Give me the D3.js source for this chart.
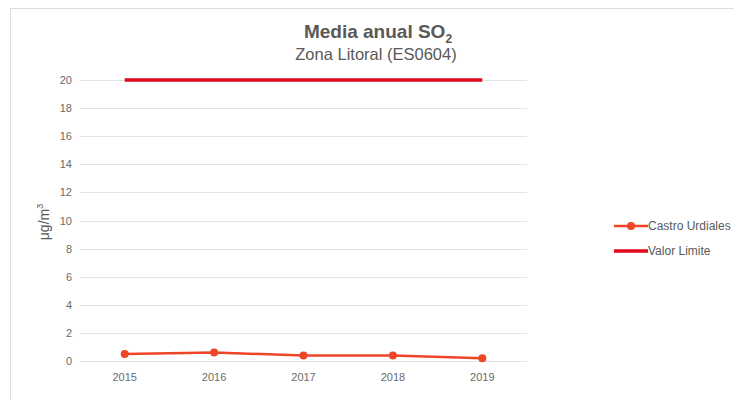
<!DOCTYPE html>
<html>
<head>
<meta charset="utf-8">
<script src="https://cdn.jsdelivr.net/npm/d3@7"></script>
<style>
  body { margin: 0; background: #fff; }
  svg { display: block; }
  .tick text { font-family: "Liberation Sans", Arial, sans-serif; font-size: 11px; fill: #6a6a6a; }
</style>
</head>
<body>
<svg id="chart" width="734" height="400"></svg>
<script>
// data
const years = ["2015", "2016", "2017", "2018", "2019"];
const castroUrdiales = [0.5, 0.6, 0.4, 0.4, 0.2];
const valorLimite = [20, 20, 20, 20, 20];
const yTicks = [0, 2, 4, 6, 8, 10, 12, 14, 16, 18, 20];

const WIDTH = 734;
const HEIGHT = 400;
const PLOT = { left: 80, right: 527, top: 80, bottom: 361 };

const SERIES_COLOR = "#ef4527";
const LIMIT_COLOR = "#e0081c";

const svg = d3.select("#chart");

// outer frame (only top and left edges visible)
svg.append("line")
  .attr("x1", 10).attr("x2", WIDTH).attr("y1", 8.5).attr("y2", 8.5)
  .attr("stroke", "#dcdcdc");
svg.append("line")
  .attr("x1", 10.5).attr("x2", 10.5).attr("y1", 8).attr("y2", HEIGHT)
  .attr("stroke", "#dcdcdc");

const x = d3.scaleBand().domain(years).range([PLOT.left, PLOT.right]);
const y = d3.scaleLinear().domain([0, 20]).range([PLOT.bottom, PLOT.top]);

// gridlines
svg.append("g")
  .selectAll("line")
  .data(yTicks)
  .join("line")
  .attr("x1", PLOT.left)
  .attr("x2", PLOT.right)
  .attr("y1", (d) => Math.round(y(d)) + 0.5)
  .attr("y2", (d) => Math.round(y(d)) + 0.5)
  .attr("stroke", "#e3e3e3");

// y axis labels
const yAxis = svg.append("g")
  .attr("transform", `translate(${PLOT.left - 8}, 0)`)
  .call(d3.axisLeft(y).tickValues(yTicks).tickSize(0).tickPadding(0));
yAxis.select(".domain").remove();

// x axis labels
const xAxis = svg.append("g")
  .attr("transform", `translate(0, ${PLOT.bottom + 6})`)
  .call(d3.axisBottom(x).tickSize(0).tickPadding(6));
xAxis.select(".domain").remove();

// axis title
svg.append("text")
  .attr("transform", `translate(49, 222) rotate(-90)`)
  .attr("text-anchor", "middle")
  .attr("font-family", "'Liberation Sans', Arial, sans-serif")
  .attr("font-size", 14)
  .attr("fill", "#595959")
  .html('μg/m<tspan dy="-6" font-size="9">3</tspan>');

// chart title
const title = svg.append("text")
  .attr("x", 378)
  .attr("y", 38)
  .attr("text-anchor", "middle")
  .attr("font-family", "'Liberation Sans', Arial, sans-serif")
  .attr("font-size", 19)
  .attr("font-weight", "bold")
  .attr("fill", "#595959");
title.append("tspan").text("Media anual SO");
title.append("tspan").attr("dy", 5).attr("font-size", 12).text("2");

svg.append("text")
  .attr("x", 376)
  .attr("y", 60)
  .attr("text-anchor", "middle")
  .attr("font-family", "'Liberation Sans', Arial, sans-serif")
  .attr("font-size", 16.5)
  .attr("fill", "#595959")
  .text("Zona Litoral (ES0604)");

const cx = (d, i) => x(years[i]) + x.bandwidth() / 2;
const line = d3.line().x((d, i) => cx(d, i)).y((d) => y(d));

// limit line
svg.append("path")
  .datum(valorLimite)
  .attr("d", line)
  .attr("fill", "none")
  .attr("stroke", LIMIT_COLOR)
  .attr("stroke-width", 3.5);

// series
svg.append("path")
  .datum(castroUrdiales)
  .attr("d", line)
  .attr("fill", "none")
  .attr("stroke", SERIES_COLOR)
  .attr("stroke-width", 2.5);

svg.append("g")
  .selectAll("circle")
  .data(castroUrdiales)
  .join("circle")
  .attr("cx", cx)
  .attr("cy", (d) => y(d))
  .attr("r", 4)
  .attr("fill", SERIES_COLOR);

// legend
const legend = [
  { name: "Castro Urdiales", color: SERIES_COLOR, width: 2.5, dot: true },
  { name: "Valor Limite", color: LIMIT_COLOR, width: 3.5, dot: false },
];

const lg = svg.append("g")
  .selectAll("g")
  .data(legend)
  .join("g")
  .attr("transform", (d, i) => `translate(614, ${226 + i * 25})`);

lg.append("line")
  .attr("x1", 0).attr("x2", 34)
  .attr("stroke", (d) => d.color)
  .attr("stroke-width", (d) => d.width);

lg.filter((d) => d.dot)
  .append("circle")
  .attr("cx", 17)
  .attr("r", 4)
  .attr("fill", (d) => d.color);

lg.append("text")
  .attr("x", 34)
  .attr("dy", "0.35em")
  .attr("font-family", "'Liberation Sans', Arial, sans-serif")
  .attr("font-size", 12)
  .attr("fill", "#595959")
  .text((d) => d.name);
</script>
</body>
</html>
